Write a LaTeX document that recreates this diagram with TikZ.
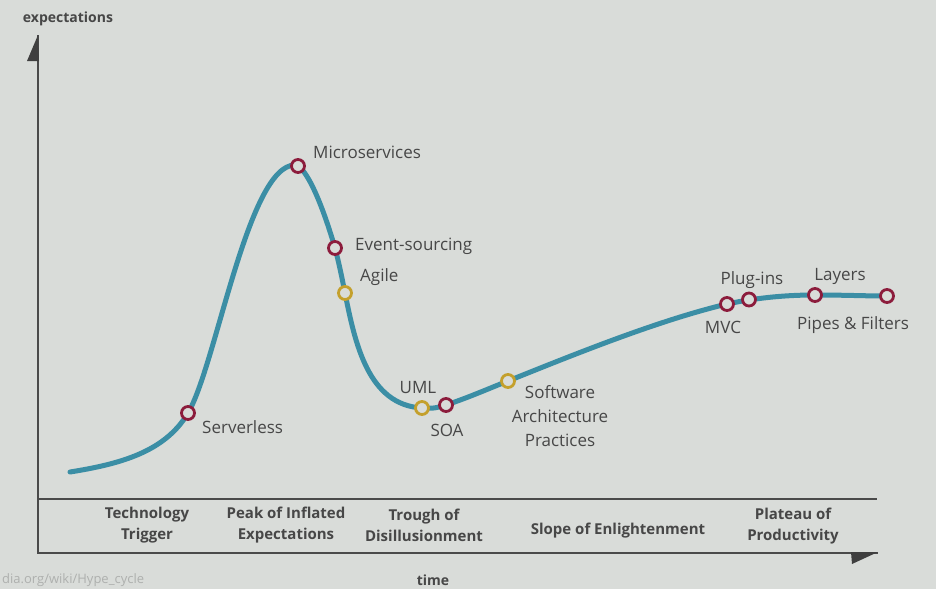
\documentclass[tikz,border=0pt]{standalone}
\usepackage{fontspec}
\setmainfont{Open Sans}
\definecolor{bg}{HTML}{D9DCD9}
\definecolor{curve}{HTML}{3B8EA5}
\definecolor{redm}{HTML}{8C1C3C}
\definecolor{yelm}{HTML}{C4A02C}
\definecolor{txt}{HTML}{474747}
\definecolor{axis}{HTML}{4A4A4A}
\tikzset{
  mk/.style={circle,draw=#1,line width=2.8pt,fill=bg,inner sep=0pt,minimum size=13pt},
  lbl/.style={text=txt,font=\fontsize{17}{20}\selectfont,inner sep=0pt},
  phase/.style={text=txt,font=\fontsize{15}{21}\selectfont\bfseries,align=center,inner sep=0pt},
}
\begin{document}
\begin{tikzpicture}[x=1pt,y=-1pt]
\fill[bg] (0,0) rectangle (936,589);
\useasboundingbox (0,0) rectangle (936,589);
% axes
\coordinate (ytop) at (38,35);
\coordinate (ybot) at (38,553);
\coordinate (xend) at (878,553);
\coordinate (mid1) at (38,499);
\coordinate (mid2) at (877,499);
\draw[axis,line width=2pt] (ytop) -- (ybot) -- (xend);
\draw[axis,line width=1.6pt] (mid1) -- (mid2);
\fill[axis!85!black] (38,35) -- (27,61) -- (39,61) -- cycle;
\fill[axis!85!black] (878,552) -- (851,552) -- (852,564) -- cycle;
\node[text=txt,font=\fontsize{14}{16}\selectfont\bfseries,inner sep=0pt] (ylab) at (68,19) {expectations};
\node[text=txt,font=\fontsize{14}{16}\selectfont\bfseries,inner sep=0pt] (xlab) at (433,580) {time};
% phases
\node[phase] (p1) at (147,525) {Technology\\Trigger};
\node[phase] (p2) at (286,525) {Peak of Inflated\\Expectations};
\node[phase] (p3) at (424,525) {Trough of\\Disillusionment};
\node[phase] (p4) at (618,531) {Slope of Enlightenment};
\node[phase] (p5) at (793,526) {Plateau of\\Productivity};
% curve
\draw[curve,line width=5pt,line cap=round]
 (70,472) .. controls (120,464) and (165,452) .. (188,413)
 .. controls (216,366) and (248,165) .. (295,165)
 .. controls (303,165) and (318,190) .. (335,248)
 .. controls (339,263) and (342,278) .. (345,293)
 .. controls (355,343) and (368,405) .. (422,408)
 .. controls (434,409) and (440,407) .. (446,405)
 .. controls (470,397) and (490,388) .. (508,381)
 .. controls (580,352) and (660,320) .. (727,304)
 .. controls (760,297) and (790,295) .. (815,295)
 .. controls (845,295) and (865,296) .. (887,296);
% markers
\node[mk=redm] (serverless) at (188,413) {};
\node[mk=redm] (micro) at (298,166) {};
\node[mk=redm] (event) at (335,248) {};
\node[mk=yelm] (agile) at (345,293) {};
\node[mk=yelm] (uml) at (422,408) {};
\node[mk=redm] (soa) at (446,405) {};
\node[mk=yelm] (sap) at (508,381) {};
\node[mk=redm] (mvc) at (727,304) {};
\node[mk=redm] (plug) at (749,299.5) {};
\node[mk=redm] (layers) at (815,295) {};
\node[mk=redm] (pipes) at (887,296) {};
% labels
\node[lbl,anchor=west] (lmicro) at (313,152) {Microservices};
\node[lbl,anchor=west] (levent) at (355,246) {Event-sourcing};
\node[lbl,anchor=west] (lagile) at (360,277) {Agile};
\node[lbl] (luml) at (418,388) {UML};
\node[lbl] (lsoa) at (447,430) {SOA};
\node[lbl,anchor=west] (lserv) at (202,427) {Serverless};
\node[lbl,align=center,font=\fontsize{17}{24}\selectfont] (lsap) at (560,416) {Software\\Architecture\\Practices};
\node[lbl] (lplug) at (752,280) {Plug-ins};
\node[lbl] (llayers) at (840,276) {Layers};
\node[lbl] (lmvc) at (723,327) {MVC};
\node[lbl] (lpipes) at (853,325) {Pipes \& Filters};
% faint url
\node[text=black!20!bg,font=\fontsize{13}{15}\selectfont,anchor=south west,inner sep=0pt] (url) at (2,587) {dia.org/wiki/Hype\_cycle};
\end{tikzpicture}
\end{document}
